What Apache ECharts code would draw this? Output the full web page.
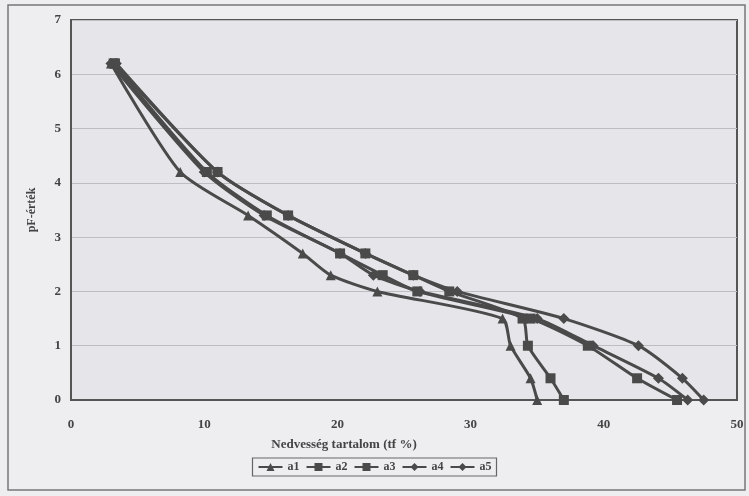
<!DOCTYPE html>
<html>
<head>
<meta charset="utf-8">
<script src="https://cdn.jsdelivr.net/npm/echarts@6/dist/echarts.min.js"></script>
<style>
html,body{margin:0;padding:0;background:#eeeef0;}
#c{width:749px;height:496px;}
</style>
</head>
<body>
<div id="c"></div>
<script>
// pF levels (y values) shared by all series
var pF = [6.2, 4.2, 3.4, 2.7, 2.3, 2.0, 1.5, 1.0, 0.4, 0];
// moisture content (tf %) per series
var a1 = [3.0, 8.2, 13.3, 17.4, 19.5, 23.0, 32.4, 33.0, 34.5, 35.0];
var a2 = [3.3, 11.0, 16.3, 22.1, 25.7, 28.4, 33.9, 34.3, 36.0, 37.0];
var a3 = [3.2, 10.2, 14.7, 20.2, 23.4, 26.0, 34.5, 38.8, 42.5, 45.5];
var a4 = [3.0, 10.0, 14.5, 20.2, 22.7, 26.2, 35.0, 39.2, 44.1, 46.3];
var a5 = [3.4, 11.0, 16.3, 22.1, 25.7, 29.0, 37.0, 42.6, 45.9, 47.5];
var seriesNames = ['a1', 'a2', 'a3', 'a4', 'a5'];
var seriesSymbols = ['triangle', 'rect', 'rect', 'diamond', 'diamond'];
var xTitle = 'Nedvesség tartalom (tf %)';
var yTitle = 'pF-érték';

var allData = [a1, a2, a3, a4, a5];
var font = '"Liberation Serif", "DejaVu Serif", serif';
var ink = '#4a4a4a';

var chart = echarts.init(document.getElementById('c'), null, {renderer: 'canvas'});
var series = allData.map(function (arr, k) {
  return {
    name: seriesNames[k],
    type: 'line',
    smooth: 0.22,
    symbol: seriesSymbols[k],
    symbolSize: seriesSymbols[k] === 'diamond' ? 11 : 10,
    lineStyle: {color: ink, width: 3},
    itemStyle: {color: ink},
    data: arr.map(function (x, i) { return [x, pF[i]]; })
  };
});

chart.setOption({
  backgroundColor: '#eeeef0',
  animation: false,
  graphic: [{
    type: 'rect',
    shape: {x: 8, y: 5, width: 737, height: 485},
    style: {fill: 'none', stroke: '#777', lineWidth: 1.5},
    silent: true
  }],
  grid: {
    left: 71, right: 12, top: 20, bottom: 96,
    show: true, backgroundColor: '#e6e6ea', borderColor: '#555', borderWidth: 2
  },
  legend: {
    bottom: 20, left: 'center',
    itemGap: 6, itemWidth: 24, itemHeight: 10,
    borderColor: '#666', borderWidth: 1.2, padding: [3, 5],
    textStyle: {fontFamily: font, fontWeight: 'bold', fontSize: 12, color: '#444'},
    data: seriesNames
  },
  xAxis: {
    type: 'value', min: 0, max: 50, interval: 10,
    name: xTitle, nameLocation: 'middle', nameGap: 38,
    nameTextStyle: {fontFamily: font, fontWeight: 'bold', fontSize: 13, color: '#444', padding: [0, 120, 0, 0]},
    axisLine: {show: true, lineStyle: {color: '#555', width: 2}},
    axisTick: {show: false},
    splitLine: {show: false},
    axisLabel: {margin: 18, fontFamily: font, fontWeight: 'bold', fontSize: 13, color: '#444'}
  },
  yAxis: {
    type: 'value', min: 0, max: 7, interval: 1,
    name: yTitle, nameLocation: 'middle', nameGap: 33,
    nameTextStyle: {fontFamily: font, fontWeight: 'bold', fontSize: 12, color: '#444'},
    axisLine: {show: true, lineStyle: {color: '#555', width: 2}},
    axisTick: {show: false},
    splitLine: {show: true, lineStyle: {color: '#bdbdc2', width: 1}},
    axisLabel: {margin: 10, fontFamily: font, fontWeight: 'bold', fontSize: 13, color: '#444'}
  },
  series: series
});
</script>
</body>
</html>
